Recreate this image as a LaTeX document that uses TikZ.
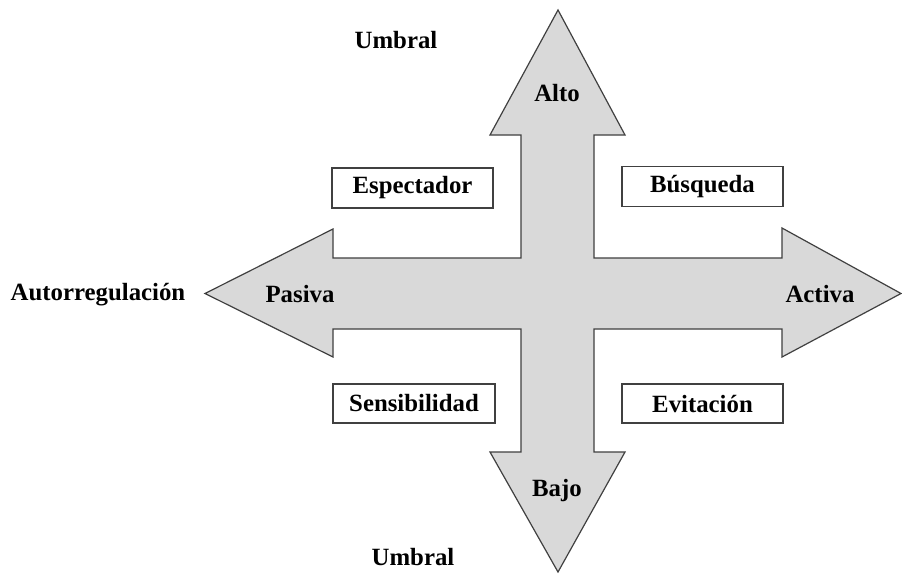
\documentclass[tikz,border=0pt]{standalone}
\usepackage{fontspec}
\setmainfont{Liberation Serif}
\begin{document}
\begin{tikzpicture}[x=1pt,y=-1pt,
  lbl/.style={font=\fontsize{24.8}{29}\selectfont\bfseries, inner sep=0pt},
  quad/.style={lbl, draw=black!75, line width=1.1pt, fill=white, minimum width=161pt, minimum height=40pt}]
\useasboundingbox (0,0) rectangle (902,573);
\fill[white] (0,0) rectangle (902,573);
% cross arrow
\draw[fill=black!15, draw=black!75, line width=1.2pt, line join=miter]
  (558,10) -- (625,135) -- (594,135) -- (594,258) -- (782,258) -- (782,228)
  -- (901,293.5) -- (782,357) -- (782,329) -- (594,329) -- (594,452) -- (625,452)
  -- (558,572) -- (490,452) -- (521,452) -- (521,329) -- (333,329) -- (333,357)
  -- (205,293.5) -- (333,229) -- (333,258) -- (521,258) -- (521,135) -- (490,135) -- cycle;
% labels on arrows
\node[lbl] (alto) at (557,93) {Alto};
\node[lbl] (bajo) at (557,491) {Bajo};
\node[lbl] (pasiva) at (300,294) {Pasiva};
\node[lbl] (activa) at (820,294) {Activa};
% outside labels
\node[lbl] (umbralA) at (396,40) {Umbral};
\node[lbl] (umbralB) at (413,557) {Umbral};
\node[lbl] (autor) at (98,295) {Autorregulación};
% quadrant boxes
\node[quad] (esp) at (412.5,188) {Espectador};
\node[quad] (bus) at (702.5,186.5) {Búsqueda};
\node[quad, minimum width=162pt, minimum height=39pt] (sen) at (414,403.5) {Sensibilidad};
\node[quad, minimum height=39pt] (evi) at (702.5,403.5) {Evitación};
\end{tikzpicture}
\end{document}
